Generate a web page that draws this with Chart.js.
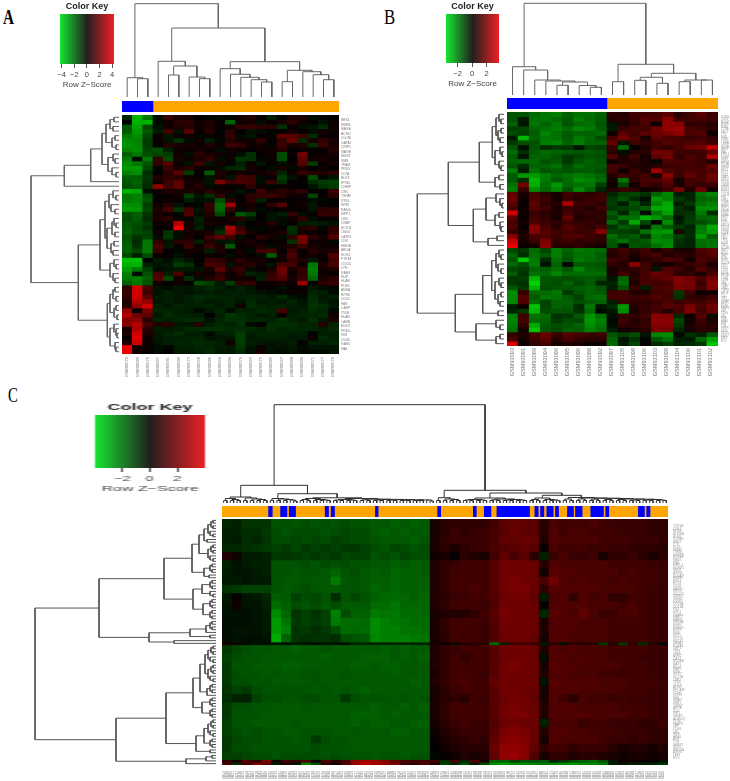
<!DOCTYPE html>
<html>
<head>
<meta charset="utf-8">
<title>Heatmaps A B C</title>
<script src="https://cdn.jsdelivr.net/npm/chart.js@4/dist/chart.umd.min.js"></script>
<style>
  body { margin: 0; background: #fff; }
  #fig { position: relative; width: 730px; height: 781px; overflow: hidden; }
  canvas { position: absolute; }
  .tag { position: absolute; font-family: "Liberation Serif", serif; font-size: 21px; line-height: 21px; color: #000; transform: scaleX(0.8); transform-origin: left top; }
</style>
</head>
<body>
<div id="fig">
  <div class="tag" style="left:3px;top:7px;font-weight:bold;transform:scaleX(.72)">A</div>
  <div class="tag" style="left:384px;top:7px">B</div>
  <div class="tag" style="left:8px;top:385px;transform:scaleX(.7)">C</div>
</div>
<script>
// Sample labels
const samplesA = ['GSM82574','GSM82580','GSM82576','GSM82587','GSM82581','GSM82584','GSM82573','GSM82568','GSM82586','GSM82566','GSM82589','GSM82579','GSM82583','GSM82575','GSM82585','GSM82567','GSM82588','GSM82582','GSM82571','GSM82577','GSM82572'];
const samplesB = ['GSM93093','GSM93091','GSM93089','GSM93094','GSM93096','GSM93095','GSM93090','GSM93088','GSM93092','GSM93097','GSM93105','GSM93098','GSM93106','GSM93103','GSM93099','GSM93104','GSM93100','GSM93101','GSM93102'];
const samplesC = [412,388,405,431,397,420,376,444,391,402,418,383,437,409,395,426,379,441,400,415,386,433,393,407,422,381,439,398,411,429,374,446,390,404,417,385,435,396,408,424,377,442,389,401,419,382,436,410,394,427,380,440,399,414,387,432,392,406,421,378,443,403,416,384,438,413,375,430,425,447,448,449,450,452,455,451,458,453,460,454,462,457,465,456,468,459,470,461,472,463,474,464,476,466,478,467,480,469,482,471,484,473,486,475,488,477,490,479,492,481,494,483,496,485,498,487,500,489,502,491,504,493,506,495,508,497,510,499,512,501,514,503,516,505];
// Row labels
const genesA = ['BEX1','RBM3','MAGEA1','ACSL3','CLDN6','GATA3','CRIP1','MAGEA4','MGST1','SMS','TFAM','PRDX2','CLTA','ELK3','IFT80','CHMP2','CMC','TSPAN','STK4','NPM','RAD54','MPP1','LRG','CNBP','SOX11','LMO4','LASP1','CD9','HMGB','ABCA1','SOX4','PTP4A','CDC42','LYN','RAB4','NUP','HLAE','PLEK','ANXA','RPS6','CD52','FAS','CASP','ITGB','HLAB','LAMB','ENO2','PRKCA','VIM','CD44','GAS5','MAL'];
const genesOther = ['TOP2A','CDK1','MCM2','AURKA','BUB1','CCNB1','KIF11','TTK','PLK1','RRM2','TYMS','CENPF','NUSAP','MELK','PBK','ESPL1','FOXM1','NEK2','ASPM','DLGAP','HMMR','PRC1','ECT2','CKS2','UBE2C','KIF2C','CDC20','ZWINT','GINS2','MKI67','COL1A','COL3A','FN1','SPP1','TGFB1','MMP2','MMP9','VEGFA','EGFR','ERBB2','ESR1','PGR','KRT5','KRT14','KRT17','GATA3','FOXA1','XBP1','TFF1','TFF3','AGR2','CA12','SCUBE','NAT1','BCL2','MAPT','MYB','GSTP','SLC7A','LRP2','TP63','CD24','ALDH','EPCAM','CDH1','CDH3','VIM','SNAI2','ZEB1','TWIST','APOE','CLU','IGF1','IGFBP','ADIPOQ','PLIN1','FABP4','LEP','CD36','LPL','HBB','HBA1','ALB','TTR','SFRP1','DKK1','WNT5A','AXIN2','LEF1','MYC'];

// Group colour bars, in sample units
const blueA = [[0, 3]];
const blueB = [[0, 9]];
const blueC = [[14, 15.1], [17.6, 19.5], [20.2, 22.1], [31, 32], [32.8, 33.8], [46.1, 46.9], [64.8, 65.7], [75.5, 76.4], [78.8, 80.8], [82.6, 92.4], [94, 95], [95.7, 96.7], [97.6, 99.5], [100.2, 101.1], [103.8, 105.6], [106.2, 108.2], [110.8, 114.6], [115.3, 116.2], [125.1, 126.9], [127.6, 128.6]];
const totalA = 21, totalB = 19, totalC = 134;

// Colour key ticks and ranges
const keyTicksA = [-4, -2, 0, 2, 4], keyRangeA = [-4.25, 4.3];
const keyTicksB = [-2, 0, 2], keyRangeB = [-3.6, 3.7];
const keyTicksC = [-2, 0, 2], keyRangeC = [-4, 4.03];

// Dendrograms: [height, left, right], 0 is a leaf
const colTreeA = [93.3,
  [19.3, 0, [18.3, 0, 0]],
  [69,
    [35.7, 0, [31, [22, 0, 0], [20, 0, [18.3, 0, 0]]]],
    [35.3,
      [28.3, 0, [22.7, 0, [19.7, 0, [17.3, 0, [15, 0, 0]]]]],
      [26.7, [15.3, 0, 0], [25.3, 0, [22.3, 0, [17.3, 0, 0]]]]]]];
const rowTreeA = [88,
  [54.7,
    [28.3,
      [17,
        [13, [9, [5, 0, 0], [6, 0, 0]], [7, [4, 0, 0], [3, 0, 0]]],
        [11, [6, 0, [4, 0, 0]], [7, 0, [3, 0, 0]]]],
      0],
    0],
  [40.7,
    [19,
      [14,
        [10, [6, 0, [3, 0, 0]], [8, 0, [4, 0, 0]]],
        [12, [7, [5, 0, [3, 0, 0]], [4, 0, 0]], [8, [5, 0, 0], [6, 0, 0]]]],
      [9, [5, 0, [3, 0, 0]], [6, 0, [4, 0, 0]]]],
    [11.7,
      [9, [6, [4, 0, 0], [3, 0, 0]], [5, [3, 0, 0], [2, 0, 0]]],
      [9, [5, 0, [3, 0, [2, 0, 0]]], [4, 0, [3, 0, 0]]]]]];
const colTreeB = [91.7,
  [28.3, 0, [25, 0, [15, 0, [14, 0, [13, [9.7, 0, 0], [9.5, 0, [7.7, 0, 0]]]]]]],
  [30.7,
    [13.3, 0, 0],
    [21.7,
      [17.7, [14.7, 0, 0], [11.7, 0, 0]],
      [15, [13.3, 0, 0], [15, 0, 0]]]]];
const rowTreeB = [86.7,
  [55.7,
    [24.7,
      [11.7, [8, [5, 0, [3, 0, 0]], [6, [3, 0, 0], [4, 0, 0]]], [9, [4, 0, [2, 0, 0]], [5, 0, [3, 0, 0]]]],
      [9, [5, 0, 0], [4, 0, 0]]],
    [30.7,
      [18, [8, 0, [4, 0, [2, 0, 0]]], [9, [5, 0, 0], [4, 0, [3, 0, 0]]]],
      [16, [7, 0, 0], 0]]],
  [48.7,
    [21.3,
      [12.3, [8, [5, 0, [3, 0, 0]], [6, 0, [3, 0, 0]]], [9, [5, 0, [3, 0, 0]], [6, [3, 0, 0], [4, 0, 0]]]],
      [6, 0, 0]],
    [28, [8, 0, [4, 0, 0]], [8, [4, 0, 0], 0]]]];

// Small repeating clusters for panel C
const p = [2.5, 0, 0], t = [3, 0, [2, 0, 0]];
const q = [6, [4, 0, 0], [4, 0, 0]], s = [8, [5, [3, 0, 0], [3, 0, 0]], [6, 0, [3, 0, 0]]];
const colTailL = [3.8, [3.2, p, p], [3.6, [3, p, p], [3.4, [3, p, p], [3.2, [2.8, p, p], [3, [2.6, p, p], t]]]]];
const colTailR = [5, [4, p, p], [4.8, [3.8, p, p], [4.5, [3.5, p, p], [4, [3.5, p, p], [3.8, [3, p, p], [3.5, [3, p, p], [3, p, p]]]]]]];
const colTreeC = [98.3,
  [17.7,
    [6, [4.5, p, [3.5, p, p]], [5, p, [4, p, [3.5, p, p]]]],
    [9.3,
      [4.5, p, [4, p, [3.5, p, t]]],
      [5.2,
        [4.5, [3.5, p, p], [3.5, p, [3, p, p]]],
        [4.5, [3.5, [3, p, p], [3, p, p]], colTailL]]]],
  [12.7,
    [5.3, p, [4, p, [3.5, p, p]]],
    [10,
      [5, [3.5, [3, p, p], [3, p, p]], [4, [3.2, p, p], [3.5, [3, p, p], [3, p, p]]]],
      [7.7,
        [5, [3.5, p, p], [3.5, p, [3, p, p]]],
        [5.5, [4, p, p], colTailR]]]]];
const rowTreeC = [181,
  [117,
    [52,
      [24, [17, [12, s, [9, 0, 0]], s], [12, q, [7, 0, 0]]],
      [23, [14, q, [6, 0, [3, 0, 0]]], [13, q, q]]],
    [67, [26, [10, q, 0], [6, 0, 0]], [42, 0, 0]]],
  [100,
    [50,
      [23, [16, [11, s, s], [9, q, 0]], [14, q, q]],
      [20, [12, s, q], [6, 0, 0]]],
    [30, [10, [4, 0, 0], 0], 0]]];

// Heat values (row z-scores), rows top to bottom
const heatA = [
[-.6,-3,-2,-.2,1,.5,.4,0,-.1,-.2,-.1,.3,.5,.1,-.5,0,.5,.5,-.2,-.1,0],
[0,-3,-3,-.1,.3,.7,.7,.2,.5,.1,-1.6,.2,.4,-.2,.1,.4,.8,.3,.1,-.3,.2],
[-1.5,-2.8,-1.2,-.3,.3,.5,.7,.3,.5,.1,.2,.9,.9,.7,.7,-.8,.1,-.2,-.3,-.7,.2],
[-1.5,-2.6,-1.5,-.4,1.2,-.3,1.5,.1,.6,-.1,.7,.1,-.3,-.2,0,.1,.3,.1,-.2,.3,.2],
[-2,-2.4,-1.2,.2,-.4,.2,.3,-.1,.2,.1,.9,-.2,-.3,.1,-.1,1.6,1.5,1,-.7,.2,.1],
[-2.4,-2.2,-1,.2,-.3,-.8,-.2,.2,-.5,-.1,.6,.3,.3,.8,.1,.9,1.8,-.7,.4,.9,.4],
[-2.5,-2.3,-1,.1,.6,.4,.4,.2,.5,.2,1,.9,.2,.3,-.1,1,.4,.5,-.8,1,.4],
[-2.2,-2.4,-1.2,-1.3,-.5,.2,.1,.4,.1,-.2,.3,.1,.1,.2,.3,.6,0,.2,.1,.1,.6],
[-1.6,-2,-1.3,-1.2,-1,.3,-.2,.7,.4,.3,.2,-.2,-.8,.1,.3,-1.3,.2,1.9,.1,.2,.4],
[-2,-.2,-2,.9,-1.2,.4,.2,.4,.9,-.2,.2,-.9,-.8,-.1,.2,-1.3,0,1.5,.3,.4,.2],
[-2.4,-2,-1.4,.9,1.4,.2,-.3,1,-.3,.4,-.1,-.5,.2,-.3,.1,-.2,.2,1.4,-1,.1,.3],
[-2.6,-2.6,-1.2,-.1,1,.4,.7,.2,.2,-.2,-.6,-.7,.4,.1,-.2,.4,-.1,.4,.1,.2,0],
[-2.2,-2.4,-.8,0,.7,1.5,-1,.1,-1.5,.5,.2,.4,.2,.3,.5,-.6,.2,.9,.6,.5,.8],
[-1.6,-1.5,-.9,.6,.8,.6,.2,.1,-.3,.4,-.3,1.1,1,-.2,.2,-1,-.3,.1,-1.3,-.1,-.4],
[-1.4,-1.7,-.8,.3,1,1.5,.4,.4,-.3,2,1,1.2,1.1,-.2,1,-.7,.1,.1,-.7,-1,-1.1],
[-1.3,-1.5,-.7,2.5,1,1.6,.3,.6,-.2,.2,-.1,.2,.8,.2,-.1,.2,.1,0,-.3,-.8,-1],
[-3,-2.8,-.2,.2,.5,.4,.5,.3,.7,.3,.3,-.3,-.1,1,.4,.7,.5,.8,.1,0,1],
[-2,-2.2,-1.2,.1,.1,.3,-1,-.3,-.8,.8,-.2,.1,.7,.9,1,.6,.3,.2,-1.1,.1,.7],
[-2,-2.2,-1.4,.1,.2,.1,-.5,-.2,-.3,-1.3,.6,.1,.7,-.5,.1,.2,.1,.2,-.2,-.1,0],
[-2.4,-2.3,-1,.3,.6,-.3,.1,-.1,.9,-1.8,2.6,.2,.3,.1,.7,1.4,.1,.3,-.4,.1,.1],
[-2.6,-2.5,-1.2,.5,1.2,-.9,1.2,-.3,.8,-1.7,.9,-.1,.4,-.2,.1,.2,.1,.1,-.3,.8,.7],
[-1.3,-1.6,-.9,.4,.3,-.1,1.4,-.2,.5,-1.2,.2,-1.4,-1,.1,-.3,-.5,.9,-.2,.1,.9,.8],
[-1.2,-1.5,-.7,.5,.7,.2,.1,-.5,.3,.2,.5,.6,-.3,.1,-.3,-.2,.2,.9,-.2,.1,.2],
[-1.4,-1.3,-1,.2,.3,3,.4,-.4,.4,.3,.2,-.3,.1,.2,.6,-.2,.1,-.4,-.5,-.4,-.3],
[-1.5,-1.2,-.8,.1,.1,4,.4,-.5,-.1,-.3,2.8,.9,-.1,-.1,.2,.1,-.8,.5,.8,-.1,.7],
[-1.6,-1.3,-1.1,.2,-.9,-.2,.3,.3,.4,-.7,2.4,1.3,.4,.1,.2,.4,-.7,.3,.2,.1,.8],
[-1.3,-.9,-1.1,-.2,-.9,-.2,.4,.1,1,1.6,1.1,-.2,.1,.7,.4,-.2,.8,2,.7,.4,1.4],
[-1.5,-.7,-2,.8,-.3,.7,.8,-.5,.6,-.3,-.4,.3,.4,.2,.1,.1,-.8,1.9,.2,.2,-.1],
[-1.6,-.9,-2,1.3,-.4,.2,1,.2,1,.4,-1.5,.1,.2,.5,-.2,.3,.5,1,.4,.2,.3],
[-1.6,-1.2,-2,.9,.1,-.1,.3,.3,-.5,.5,.1,.3,-.2,1,1.2,.1,1,.1,.7,.4,.5],
[-1.2,-.5,-1.3,.3,.1,-.3,.2,.1,.2,.1,-.2,.3,.1,-.2,-1.5,.4,1.3,.2,.3,.2,1.3],
[-3.2,-3.2,0,-.4,-.2,-.6,-.3,.1,.9,.8,.3,.7,.3,.4,.1,.3,.9,.5,-.4,.2,1.1],
[-3,-3,-.5,-.3,-.4,-1,-.8,-.1,1.2,1,-.3,.5,.6,.2,-.3,1.3,1.1,.2,-2,.5,1.2],
[-2.6,-2,-1,-.2,-.3,-.4,-.4,-.3,.4,1.6,.6,.9,-.2,.1,.4,1.8,.4,.8,-2.2,.3,.5],
[-2.2,-.2,-1.4,1.2,-.5,1.3,-.2,.4,.2,.7,.2,.6,-.6,-.4,.8,1.7,.2,.8,-2,.2,.1],
[-2,-2.2,-1.6,1.4,-1.2,.3,-.8,-.2,.6,1,.2,.3,.2,-.5,1,1.3,.5,.9,-1.7,.4,.7],
[-1.6,-2,-1.4,.3,.1,.2,.1,-1.3,-1,-.4,-1,.8,.9,.2,.2,.4,.2,2.6,-.1,.8,.9],
[.8,3.5,1.2,-.3,-.2,-.4,-.3,-.5,-.7,-.5,-.3,-.5,-.3,.1,.1,-.2,.1,.1,-.4,-.2,-.1],
[.9,3.5,1,-.3,-.5,-.4,-.3,-.4,-.5,-.4,-.5,-.5,-.4,-.3,-.2,-.1,.2,.2,-.6,-.5,-.2],
[.8,3.5,1.5,-.4,-.5,-.4,-.5,-.7,-.6,-.6,-.5,-.5,-.6,-.5,-.4,-.7,-.3,-.1,-.7,-.4,-.5],
[.5,3,2.5,-.4,-.5,-.4,-.5,-.6,-.4,-.5,-.6,-.3,-.7,-.4,-.5,-.4,-.6,-.3,-.8,-.5,-.3],
[.6,2.5,3.5,-.5,-.4,-.6,-.5,-.5,-.6,-.4,-.5,.3,-.7,-.6,-.5,-.6,-.5,-.4,-.9,-.7,-.4],
[2.5,.1,2,-.6,-.6,-.5,-.4,-.1,-.4,-.6,-.2,-.6,-.5,-.7,-.6,1.2,-.4,-.5,-.7,-.6,-.1],
[3,1.8,1.5,-.4,-.7,-.6,-.5,-.5,0,-.5,-.9,-.7,-.6,-.4,-.5,.2,-.5,-.6,-.6,-.7,.3],
[2.2,2.4,.7,-.6,-.5,-.6,-.7,-.7,-.3,-.6,-.8,-.8,-.6,-.6,-.5,-.8,-.6,-.4,-.8,-.4,.5],
[2.3,3,1.2,.5,.7,-.4,-.4,.6,-.5,-.7,-.5,-.8,-.2,.1,-.7,-.8,-.7,-.6,-.6,.6,-.6],
[.3,3,.7,-.5,-.4,-.5,-.7,-.7,-.8,-.8,-.7,-.7,-.7,-.5,-.8,-.6,-.7,-.6,-.6,-.5,-.7],
[.5,3.5,.5,-.4,-.6,-.7,-.5,-.5,-.2,-.5,-.6,-1,-.5,-.6,-.6,-.6,-.5,-.5,.1,-.5,-.5],
[.1,3.8,.3,-.4,-.5,-.5,-.6,-.6,-.3,-.4,-.4,-1,-.4,-.5,-.5,-.5,-.4,-.4,.2,-.7,-.5],
[.5,3.5,.2,-.3,-.5,-.6,-.6,-.7,-.6,-.5,.3,-1,-.5,-.4,-.3,-.4,-.5,.1,-.5,-.5,-.6],
[4,.2,.2,-.2,-.1,-.5,-.5,-.6,-.6,-.5,-.4,-.9,-.3,.2,-.3,-.3,-.4,-.2,-.3,-.3,-.3],
[4,.3,.1,-.2,0,-.4,-.4,-.5,-.7,-.4,-.4,-.7,-.3,.4,-.3,-.2,-.3,-.1,-.2,-.2,-.4]
];

const heatB = [
[-1.2,-1.2,-1.5,-1.7,-1.8,-1.4,-1.6,-1.6,-1.4,.6,.5,.9,.9,1,1.3,.6,.9,1.2,.8],
[-1.2,-.4,-1.6,-1.7,-1.5,-1.3,-1.8,-1.5,-1.3,.5,.6,.8,1.2,1.1,2,.9,.9,1,.9],
[-1.4,-.3,-1.7,-1.4,-1.7,-1.2,-1.5,-1.6,-1.2,-.3,.4,.7,1,.2,2,1.9,.6,.7,.5],
[-.9,-1,-1.4,-1.6,-1.8,-1.5,-1.9,-1.7,-1.3,-.4,.8,1,.9,1.6,2.1,2.2,1,.9,.6],
[-1.1,-.9,-1.3,-1.9,-1.6,-1.3,-1.4,-1.4,-1.5,.2,1.3,.9,1.3,1.5,1.7,2.1,1.1,1.2,.2],
[-.4,-2.6,-1.4,-1.7,-1.6,-1.3,-1.7,-1.5,-1.1,1,1.6,1.1,.4,1.3,1.1,1,.8,.9,.7],
[-.8,-1.1,-1.2,-1.8,-1.9,-1.4,-1.8,-1.4,-1.4,1.4,-.3,.9,.7,.9,1.2,1,1.1,1.2,.9],
[-1.2,-.2,-1.2,-.6,-.8,-.8,-.3,-1,-.9,.8,-1.5,.1,.5,.9,.7,1,1.5,1.6,2.7],
[-1.5,-.6,-1.3,-1.5,-1.4,-1.3,-1.2,-1.3,-1.2,.6,-.2,.5,.6,1.6,1.5,.9,.8,.9,1.4],
[-1.3,-.3,-1.4,-1.4,-1.2,-.8,-1,-1.2,-1.1,1.2,.4,.9,.3,1.3,1.6,.7,1.1,.8,2.4],
[-1.4,-1.5,-1.5,-1.2,-1.3,-.8,-1.2,-1.4,-1.2,.2,.5,.6,.4,-.1,1.1,1,1,.9,.5],
[-1.2,-.6,-1.4,-1.4,-1.6,-1.1,-1.5,-1.3,-1.3,1,.8,.5,.4,.6,.8,.9,1,.9,1.5],
[-1.8,-.4,-1.6,-1.2,-1.3,-1.2,-1.3,-1.3,-1.1,.9,.2,.8,.5,2.3,1.1,.9,1.1,1,1.2],
[-1.3,-2.2,-2.2,-1.8,-1.4,-1.6,-1.8,-1.6,-1.4,.5,.9,.7,.9,.3,2,.8,1.4,1,1.6],
[-1.3,-.6,-2.6,-1.7,-1.3,-1.5,-2,-1.8,-1.5,.3,-1.6,.6,1,1,1.4,.3,1,1,1.4],
[-1.6,1.6,-2.5,-1.6,-2.2,-1.5,-1.6,-1.7,-.9,.2,-1,.3,.9,.7,1.1,.4,.9,.7,.8],
[-1.8,.8,-2,-1.5,-1.9,-1.2,-2,-1.4,-.5,.5,.8,.6,.2,.4,.8,1.7,.4,1.6,.3],
[1.4,.4,1,.6,.3,.9,.7,.6,.8,-.5,-.9,-1,-.7,-1.4,-1.9,-.4,-.5,-1.6,-1.9],
[1.6,.2,1.1,.8,.3,.8,.6,.8,.9,-.8,-1.2,-.6,-.2,-2.2,-1.8,-.8,-.5,-1.4,-1.5],
[1.3,.1,1.3,.7,.5,2.4,.9,.8,.7,-.9,-.4,-1.2,-.5,-1.8,-2.4,-.4,-.8,-1.6,-1.8],
[1,.2,1.2,.9,.4,.8,.7,.5,.9,-.7,-.9,-1,-1.3,-2.4,-2.5,-.7,-.4,-2,-2],
[3,.2,.8,.6,.4,.9,.6,.7,.6,-1.3,-.5,-1.4,-.2,-1.6,-2.3,-.6,-.7,-1.7,-.6],
[1.3,.1,1,.7,.3,1.4,.5,.6,.7,-1,-1.6,-1.6,-2.5,-2.1,-1.5,-.3,-.8,-1.4,-1.5],
[1,.3,1.1,.8,.6,.9,.7,.8,.6,-1.5,-.8,-2.4,-1,0,-2,-.4,-.9,-1.1,-1.4],
[1.1,.1,2,1,.6,1.2,.9,.7,1,-.7,-1.3,-1.1,-.3,-1.7,-1.3,-.8,-.5,-1.7,-2.4],
[.7,.3,1.8,1.2,.9,1,.8,.9,1.9,-1,-.9,-.8,-1.6,-2.1,-2.2,.4,-.6,-1.8,-2.2],
[1.9,.5,1,1.1,.8,1.1,1.1,.9,.7,-1.5,-1.1,-1.3,-.7,-1.9,-1.6,-.9,-.6,-2.2,-1.3],
[2.8,.3,.9,1.7,.7,.9,.7,.8,.6,-1.3,-1.6,-1.1,-1.3,-2,-1.9,-.7,-.5,-1.6,-1.6],
[3.4,.2,.3,1.9,.5,.5,.7,.4,.3,-1.2,-.2,-1.2,-1.1,-1.6,-2,-.6,-.5,-1.5,-1.7],
[-1,-.8,-1.5,-1,-1.8,-1.4,-1.7,-1.6,-1.5,.6,.9,.6,.9,.4,.7,.4,.4,1.1,1.3],
[-1.4,-.6,-1.6,-1.3,-1.8,-1.3,-1.6,-1.6,-1.3,.5,.8,.4,.8,1,.5,.7,.6,.9,1.2],
[-1.2,-2.8,-1.7,-.6,-1.6,-1.2,-1.7,-1.5,-1.4,.9,.7,.3,.6,.7,1.1,.9,.3,1.1,.8],
[-1.5,-1.1,-1.8,-.3,-1.4,-.1,-1.3,-1.3,-1.2,.7,.5,2,.9,.4,.3,.6,.8,.9,.4],
[-1,-.9,-1.4,-1.3,-1.6,-1.2,-1.9,-1.4,-1.3,.3,.6,.7,.9,-.3,1.1,.9,.5,1.2,.7],
[-1.3,-.7,-1.6,-1.5,-1.9,-1.5,-1.5,-1.5,-1.5,.4,.9,.5,1,1.5,1.3,.6,.7,.4,1],
[-.8,-.9,-2.6,-1.2,-1.2,-1.1,-1.2,-1.3,-1.1,-.3,-1.4,.6,1,1.2,1.4,1.9,1.6,1.1,1.6],
[-.8,-.7,-3,-1.2,-1.1,-1.4,-1,-1.3,-.5,-.5,-1.6,.5,1,.9,1,1.8,1.7,.8,1.9],
[-1.2,-.8,-2.5,-1.1,-1.2,-1.2,-1.3,-1.4,-1.2,-.4,-1.2,.8,-.4,1,1.1,1.7,1.6,1,1.8],
[-2,.8,-1.5,-1.5,-1.7,-.8,-1.2,-1.4,-1.3,.9,.9,.5,.5,.9,1,-.8,.9,.2,.3],
[-2,1.2,-1.3,-1.7,-1.6,-1.3,-.9,-1.5,-1.6,1,1,.8,.9,1.2,.9,-.7,.7,.6,.8],
[-1.9,1.1,-1.5,-1,-1.4,-1.4,-1.1,-1.3,-1.4,-.4,.8,.7,.7,.8,1.1,.8,1,.9,1.2],
[-.4,.2,-2.8,-1,-1.4,-1.3,-.6,-1.7,-.3,-.6,-2.2,.5,.8,1,1.2,1.1,1.7,1.1,1.6],
[-.5,-.8,-2.6,-1.1,-1.2,-1.2,-.7,-1.5,-.1,-.3,-2,.4,.7,1,.5,1,1.8,.9,1.5],
[-1.8,.9,-1.6,-1.5,-.7,-.8,-1.3,-2,-1.6,-.2,.7,.7,.9,1.9,1.9,-.6,.2,1.2,-.2],
[-1.9,1,-1.5,-1.4,-.8,-1.1,-1,-2.2,-1.8,-.1,.9,.5,.7,2,2,-1,.2,.9,.4],
[-1.8,.7,-2.4,-1.3,-1.1,-1.2,-1.4,-2,-1.7,-.2,.7,.6,.8,1.8,1.9,-.8,.4,.7,.6],
[-1.6,.3,-2.8,-1.2,-1,-1.3,-1.3,-1.8,-1.5,-.4,.3,.4,.6,1.7,1.6,-.5,.3,.6,.5],
[.7,.5,1,1.5,.8,1.2,1,.8,.9,-1.2,-.9,-1.1,-.3,-1.9,-2,-.1,-.7,-.5,-1.3],
[1.1,.3,.9,1.3,.5,1,.7,.6,.6,-1.4,-.3,-.7,-.1,-1.2,-1.6,-.4,-.4,-1.4,-2.2],
[3.2,.2,.7,.9,.3,.5,.4,.1,.2,-1.5,-.4,-1,.1,-.6,-.9,-.5,-.6,-.8,-2.8]
];

// Panel C is read on a coarser grid: 45 columns, and row spans out of 90 rows
const spansC = [3,3,3,3,3,3,3,3,3,3,3,3,3,3,3,1,3,3,3,3,3,3,3,3,3,3,3,3,3,3,1,1];
const heatC = [
[-.6,-.5,-.8,-.8,-.8,-1.3,-1.2,-1.3,-1.2,-1.3,-1.2,-1.3,-1.2,-1.3,-1.3,-1.4,-1.4,-1.5,-1.4,-1.5,-1.4,.3,.5,.6,.6,.6,.6,.8,1.1,1.2,1.2,1.1,.5,.9,.8,.8,.8,.9,.8,.7,.7,.7,.7,.6,.6],
[-.5,-.5,-.7,-.7,-.9,-1.2,-1.3,-1.2,-1.2,-1.2,-1.3,-1.2,-1.1,-1.2,-1.2,-1.4,-1.5,-1.4,-1.5,-1.4,-1.4,.3,.5,.7,.6,.7,.7,.9,1.1,1.3,1.2,1.1,.5,1,.8,.9,.9,.8,.8,.8,.7,.7,.7,.6,.6],
[-.5,-.4,-.7,-.6,-.8,-1.2,-1.2,-1.1,-1.2,-1.1,-1.2,-1,-1.1,-1.2,-1.2,-1.3,-1.4,-1.4,-1.4,-1.5,-1.3,.3,.6,.7,.7,.7,.7,.9,1.2,1.2,1.3,1.2,.4,1,.9,.9,.9,.9,.8,.8,.8,.7,.7,.7,.6],
[-.6,-.6,-.7,-.8,-.9,-1,-.9,-1.1,-.9,-1,-.9,-1,-.9,-.9,-1,-1.2,-1.3,-1.1,-1.2,-1.3,-1.2,.3,.5,.3,.6,.7,.7,.9,1,1.1,1.2,1.1,.1,.9,.8,.8,.8,.7,.8,.7,.7,.6,.6,.6,.5],
[.4,.2,-.4,-.4,-.5,-.9,-.8,-.9,-1,-.9,-1,-.9,-1.1,-1,-1,-1.3,-1.2,-1.3,-1.1,-1.2,-1.2,.2,.3,.1,.5,.4,.3,.8,1.2,.9,1.1,.5,-.5,.7,.9,.7,.7,.8,.3,.6,.6,.7,.5,.3,.5],
[-.5,-.3,-.4,-.5,-.5,-1.3,-1.3,-1.3,-1.2,-1.3,-1.2,-1.3,-1.2,-1.3,-1.3,-1.4,-1.4,-1.5,-1.4,-1.5,-1.4,.4,.6,.7,.8,.8,.8,1.1,1.4,1.4,1.4,1.3,.5,1,.9,.9,.9,.9,.9,.8,.8,.8,.8,.7,.7],
[-.4,-.3,-.3,-.4,-.5,-1.3,-1.3,-1.4,-1.3,-1.3,-1.4,-1.6,-1.3,-1.2,-1.4,-1.5,-1.4,-1.6,-1.5,-1.5,-1.4,.4,.6,.8,.8,.8,.8,1.1,1.4,1.4,1.4,1.3,.2,1.1,1,1,.9,.9,.9,.9,.8,.9,.8,.8,.7],
[-.4,-.4,-.3,-.4,-.4,-1.3,-1.4,-1.4,-1.3,-1.4,-1.4,-1.9,-1.4,-1.3,-1.4,-1.5,-1.5,-1.6,-1.5,-1.5,-1.5,.4,.6,.8,.8,.8,.8,1.1,1.4,1.5,1.4,1.3,.9,1.4,1,.9,1,.9,.9,.8,.9,.8,.8,.8,.7],
[-.8,-.9,-1,-1,-1,-1.3,-1.4,-1.3,-1.2,-1.3,-1.4,-1.4,-1.3,-1.3,-1.4,-1.6,-1.5,-1.6,-1.5,-1.5,-1.5,.4,.6,.8,.8,.9,.8,1.1,1.4,1.5,1.5,1.3,.6,1.1,1,1,1,1,.9,.9,.9,.9,.8,.7,.7],
[-.4,.1,-.3,-.4,-.6,-1.5,-1.4,-1,-1.2,-1.1,-1.3,-.7,-1.3,-1.1,-1.3,-1.5,-1.6,-1.7,-1.6,-1.5,-1.6,.4,.5,.7,.7,.8,.8,1,1.3,1.4,1.4,1.2,-.4,.9,1,.6,1,.8,.9,.6,.6,.8,.8,.7,.7],
[-.3,.2,-.3,-.3,-.5,-1.7,-1.5,-1.2,-1.3,-1.2,-1.4,-1.2,-1.4,-1.4,-1.4,-1.7,-1.7,-1.8,-1.6,-1.6,-1.6,.4,.6,.8,.8,.8,.7,1,1.4,1.4,1.4,1.3,.1,1,1,1,1,.9,.9,.9,.8,.9,.8,.7,.7],
[-.3,-.2,-.2,-.3,-.4,-2.2,-1.6,-.8,-1,-.8,-1,-2,-1.2,-1.5,-1.5,-1.9,-1.8,-1.9,-1.7,-1.7,-1.6,.3,.4,.4,.4,.6,.8,1.1,1.5,1.4,1.4,1.3,-.6,1.1,1,.9,1.2,.9,.7,.7,.9,.9,.8,.7,.7],
[-.2,-.2,-.2,-.3,-.4,-2.4,-1.8,-.9,-1,-.9,-1,-1.9,-1.7,-1.7,-1.6,-2.2,-2,-1.9,-1.8,-1.7,-1.7,.3,.6,.8,.8,.8,.7,1,1.4,1.4,1.4,1.3,.3,1,1,1,.9,.9,.9,.8,.8,.8,.8,.7,.7],
[-.2,-.3,-.3,-.3,-.4,-2.4,-2,-.8,-.9,-.7,-.9,-1.2,-1.7,-1.6,-1.7,-2.2,-2,-2,-1.8,-1.8,-1.7,.3,.6,.8,.8,.8,.7,1,1.4,1.4,1.4,1.3,.4,1,1,1,.9,.9,.9,.8,.8,.8,.8,.7,.7],
[-.2,-.3,-.2,-.2,-.3,-2.7,-1.5,-.8,-.7,-.8,-.8,-.7,-1.2,-1.3,-1.4,-2.1,-2,-2,-2,-1.9,-1.8,.3,.5,.8,.8,.8,.7,1,1.3,1.4,1.4,1.2,.3,1,1,.9,.9,.9,.9,.8,.8,.8,.8,.7,.7],
[.3,.2,-.2,-.3,-.2,-.3,-.2,-.4,-.3,-.2,-.3,-.3,-.2,-.6,-.6,-.5,-.5,-.6,-.6,-.5,-.5,.3,.2,-.2,.5,.5,.5,-1.6,-.5,.8,.8,.7,-.4,.6,-.3,.6,.5,.5,-.8,.5,-.9,.6,-.7,.5,-.1],
[-.9,-1.1,-1.2,-1.3,-1.3,-1.4,-1.4,-1.5,-1.4,-1.4,-1.3,-1.4,-1.4,-1.4,-1.4,-1.4,-1.5,-1.4,-1.5,-1.4,-1.4,.4,.6,.7,.8,.8,.8,1.1,1.4,1.4,1.4,1.3,.4,1,.9,1,.9,.9,.9,.8,.8,.8,.8,.7,.7],
[-1,-1.2,-1.3,-1.3,-1.4,-1.4,-1.4,-1.4,-1.4,-1.4,-1.5,-1.4,-1.4,-1.4,-1.5,-1.5,-1.5,-1.4,-1.5,-1.4,-1.5,.4,.6,.8,.6,.8,.8,1.1,1.3,1.4,1.4,1.3,-.2,1,1,.9,1,.9,.9,.8,.8,.8,.7,.7,.7],
[-.9,-1.3,-1.3,-1.4,-1.4,-1.4,-1.5,-1.5,-1.4,-1.4,-1.4,-1.4,-1.4,-1.5,-1.5,-1.4,-1.5,-1.5,-1.4,-1.4,-1.4,.4,.6,.8,.8,.8,.8,1.1,1.4,1.5,1.4,1.3,.3,1.1,1,1,.9,.9,.9,.9,.8,.8,.8,.7,.7],
[-.9,-1.2,-1.3,-1.3,-1.4,-1.3,-1.4,-1.4,-1.3,-1.3,-1.4,-1.4,-1.3,-1.4,-1.4,-1.4,-1.4,-1.5,-1.4,-1.4,-1.4,.3,.6,.8,.8,.8,.7,1.1,1.4,1.4,1.4,1.3,.4,1,1,.9,.9,.9,.8,.8,.7,.8,.8,.7,.7],
[-.9,-1.2,-1.2,-1.3,-1.3,-1.4,-1.4,-1.4,-1.4,-1.3,-1.4,-1.4,-1.4,-1.4,-1.4,-1.4,-1.4,-1.4,-1.4,-1.5,-1.4,.4,.6,.8,.9,.8,.8,1.2,1.4,1.4,1.4,1.3,-.3,1.1,1,1,1,1,.9,.9,.9,.8,.8,.8,.7],
[-.8,-1,-.9,-1.2,-1.3,-1.3,-1.3,-1.3,-1.3,-1.4,-1.3,-1.4,-1.3,-1.4,-1.5,-1.4,-1.4,-1.4,-1.4,-1.4,-1.4,.3,.5,.7,.8,.8,.8,1.1,1.4,1.4,1.3,1.3,.3,1,1,1,.9,.9,.9,.9,.8,.8,.8,.7,.7],
[-.7,-.5,-.5,-1,-1.2,-1.2,-1.3,-1.3,-1.2,-1.2,-1.3,-1.3,-.9,-1.2,-1.3,-1.3,-1.3,-1.4,-1.3,-1.4,-1.3,.3,.5,.6,.5,.8,.7,1.1,1.3,1.4,1.4,1.2,.3,1,.8,.5,.9,.8,.8,.7,.8,.7,.7,.7,.7],
[-.9,-1.2,-1.2,-1.3,-1.3,-1.4,-1.4,-1.4,-1.3,-1.4,-1.4,-1.4,-1.4,-1.4,-1.4,-1.5,-1.4,-1.4,-1.5,-1.4,-1.5,.3,.6,.8,.8,.8,.8,1.1,1.4,1.5,1.4,1.3,.5,1,1,1,.9,.9,.9,.9,.8,.8,.8,.7,.7],
[-.9,-1.3,-1.3,-1.3,-1.4,-1.4,-1.4,-1.4,-1.4,-1.4,-1.4,-1.4,-1.4,-1.5,-1.5,-1.5,-1.4,-1.5,-1.4,-1.4,-1.4,.3,.6,.8,.8,.8,.8,1.1,1.4,1.5,1.5,1.3,.4,1,1,1,1,.9,.9,.9,.9,.8,.8,.7,.7],
[-1,-1.3,-1.3,-1.4,-1.4,-1.4,-1.4,-1.3,-1.4,-1.4,-1.4,-1.4,-1.4,-1.5,-1.4,-1.5,-1.5,-1.4,-1.4,-1.5,-1.5,.3,.5,.7,.8,.7,.7,1,1.3,1.4,1.3,1.3,-.5,.9,.9,.9,.7,.8,.8,.7,.7,.7,.6,.6,.7],
[-1,-1.2,-1.3,-1.2,-1.3,-1.3,-1.4,-1.4,-1.3,-1.3,-1.3,-1.4,-1.4,-1.3,-1.4,-1.4,-1.4,-1.5,-1.5,-1.4,-1.4,.2,.4,.6,.7,.7,.7,1.1,1.5,1.6,1.5,1.3,.4,1,1,.9,.9,.8,.8,.8,.7,.7,.7,.6,.6],
[-.9,-1.1,-1.2,-1.2,-1.3,-1.3,-1.3,-1.4,-1.3,-.9,-1.2,-1.3,-1.3,-1.4,-1.4,-1.4,-1.4,-1.4,-1.4,-1.4,-1.4,.1,.3,.5,.6,.7,.6,1.2,1.6,1.7,1.6,1.3,.3,1,.9,.9,.9,.9,.8,.7,.7,.6,.7,.6,.6],
[-.9,-1.2,-1.2,-1.3,-1.3,-1.3,-1.3,-1.3,-1.3,-1.2,-1.3,-1.3,-1.3,-1.4,-1.4,-1.4,-1.4,-1.4,-1.4,-1.4,-1.4,0,.2,.4,.5,.5,.5,1.3,1.8,1.8,1.7,1.2,.6,.8,.8,.6,.7,.7,.7,.5,.3,.4,.4,.3,.4],
[-1,-1,-1.1,-1.2,-1.2,-1.3,-1.2,-1.2,-1.2,-1.2,-1.3,-1.2,-1.3,-1.3,-1.3,-1.4,-1.3,-1.3,-1.4,-1.3,-1.3,-.1,.1,.2,.4,.3,.4,1.2,1.8,1.9,1.7,1,.3,.6,.6,.4,.5,.5,.4,.3,.2,.3,.3,.2,.3],
[.6,.3,1,.5,1.5,.2,.8,.6,.9,.2,.9,.5,.8,1.8,2,1.9,1.7,1.2,.9,.8,.8,.8,-.8,.9,-.6,1,.3,-1.5,-1.5,-1,-1.3,-1.2,-1.4,-.5,-.8,-1.2,-1.5,-1.7,-1.3,-.4,.2,.2,.1,.1,-.2],
[.9,-.7,.8,1.6,1,-.4,.4,-.3,-2,-1.2,.6,.2,1,1.9,2.4,2,1.8,1.5,.8,.5,1,.4,-1,-.6,-1.2,-.4,-1.1,-2.2,-2.4,-2.2,-2.2,-2,-1.8,-2,-2.2,-2.4,-2.2,-2.1,-1.8,-.5,-.3,-.5,-.5,-.6,-.8]
];

// Shared chart options
const baseOptions = () => ({
  responsive: false,
  animation: false,
  events: [],
  layout: { padding: 0 },
  plugins: { legend: { display: false }, tooltip: { enabled: false } }
});
const fig = document.getElementById('fig');

function addCanvas(x, y, w, h) {
  const c = document.createElement('canvas');
  c.width = w;
  c.height = h;
  c.style.left = x + 'px';
  c.style.top = y + 'px';
  fig.appendChild(c);
  return c;
}

// red/green scale like the colour key
function zColor(v, negMax, posMax) {
  const c = Math.round(255 * Math.min(1, Math.abs(v) / (v < 0 ? negMax : posMax)));
  return v < 0 ? `rgb(0,${c},0)` : `rgb(${c},0,0)`;
}

function heatChart(box, rows, negMax, posMax, labels, spans) {
  const c = addCanvas(...box);
  c.style.background = '#101010';
  const total = spans ? spans.reduce((a, b) => a + b, 0) : rows.length;
  new Chart(c, {
    type: 'bar',
    data: {
      labels,
      datasets: rows.map((r, i) => ({
        data: r.map(() => (spans ? spans[i] : 1)),
        backgroundColor: r.map(v => zColor(v, negMax, posMax)),
        barPercentage: 1, categoryPercentage: 1, borderWidth: 0
      }))
    },
    options: {
      ...baseOptions(),
      scales: {
        x: { stacked: true, display: false },
        y: { stacked: true, display: false, reverse: true, min: 0, max: total }
      }
    }
  });
}

function leafWalk(tree) {
  const pts = [];
  let next = 0;
  function walk(n) {
    if (n === 0) { next++; return { pos: next - 0.5, h: 0 }; }
    const a = walk(n[1]), b = walk(n[2]);
    pts.push([a.pos, a.h], [a.pos, n[0]], [b.pos, n[0]], [b.pos, b.h], [NaN, NaN]);
    return { pos: (a.pos + b.pos) / 2, h: n[0] };
  }
  walk(tree);
  return { pts, count: next };
}

function dendroChart(box, tree, vertical, color) {
  const { pts, count } = leafWalk(tree);
  const data = pts.map(d => (vertical ? { x: d[0], y: d[1] } : { x: d[1], y: d[0] }));
  const hMax = vertical ? box[3] : box[2];
  new Chart(addCanvas(...box), {
    type: 'scatter',
    data: { datasets: [{ data, showLine: true, spanGaps: false, pointRadius: 0, borderColor: color, borderWidth: 1, clip: false }] },
    options: {
      ...baseOptions(),
      scales: vertical
        ? { x: { type: 'linear', display: false, min: 0, max: count }, y: { type: 'linear', display: false, min: 0, max: hMax } }
        : { x: { type: 'linear', display: false, reverse: true, min: 0, max: hMax }, y: { type: 'linear', display: false, reverse: true, min: 0, max: count } }
    }
  });
}

function groupBar(box, blue, total) {
  const mk = (range, color) => ({ data: [range], backgroundColor: color, barPercentage: 1, categoryPercentage: 1, grouped: false });
  new Chart(addCanvas(...box), {
    type: 'bar',
    data: { labels: ['group'], datasets: [...blue.map(b => mk(b, '#0000ff')), mk([0, total], '#ffa500')] },
    options: {
      ...baseOptions(),
      indexAxis: 'y',
      scales: { x: { type: 'linear', display: false, min: 0, max: total }, y: { display: false } }
    }
  });
}

function keyChart(box, range, ticks, stretch) {
  const c = addCanvas(...box);
  if (stretch) { c.style.transform = `scaleX(${stretch})`; c.style.transformOrigin = 'left top'; }
  new Chart(c, {
    type: 'bar',
    data: {
      labels: ['key'],
      datasets: [{
        data: [range],
        barPercentage: 1, categoryPercentage: 1, borderWidth: 0,
        backgroundColor(ctx) {
          const a = ctx.chart.chartArea;
          if (!a) return '#222';
          const g = ctx.chart.ctx.createLinearGradient(a.left, 0, a.right, 0);
          g.addColorStop(0, '#16e630');
          g.addColorStop(0.5, '#221f1f');
          g.addColorStop(1, '#ec2024');
          return g;
        }
      }]
    },
    options: {
      ...baseOptions(),
      indexAxis: 'y',
      layout: { padding: { left: 8, right: 8 } },
      plugins: {
        legend: { display: false }, tooltip: { enabled: false },
        title: { display: true, text: 'Color Key', color: '#222', font: { family: 'Liberation Sans', size: 9, weight: 'bold', lineHeight: 1.2 }, padding: { top: 1, bottom: 2.2 } }
      },
      scales: {
        y: { display: false },
        x: {
          type: 'linear', min: range[0], max: range[1],
          afterBuildTicks(s) { s.ticks = ticks.map(v => ({ value: v })); },
          afterFit(s) { s.height = 26; },
          grid: { drawOnChartArea: false, tickLength: 4, color: '#555' },
          border: { display: false },
          ticks: { color: '#444', padding: 2, maxRotation: 0, font: { family: 'Liberation Sans', size: 7.5 }, callback: v => String(v).replace('-', '\u2212') },
          title: { display: true, text: 'Row Z\u2212Score', color: '#444', padding: 0, font: { family: 'Liberation Sans', size: 8 } }
        }
      }
    }
  });
}

function rowLabels(box, labels, size, color, pad) {
  new Chart(addCanvas(...box), {
    type: 'bar',
    data: { labels, datasets: [] },
    options: {
      ...baseOptions(),
      scales: {
        x: { display: false },
        y: {
          type: 'category', labels, position: 'right', offset: true,
          afterFit(s) { s.width = box[2] - 1; },
          grid: { display: false, drawTicks: false }, border: { display: false },
          ticks: { autoSkip: false, padding: pad, color, font: { family: 'Liberation Sans', size } }
        }
      }
    }
  });
}

function sampleLabels(box, labels, size, color) {
  new Chart(addCanvas(...box), {
    type: 'bar',
    data: { labels, datasets: [] },
    options: {
      ...baseOptions(),
      scales: {
        y: { display: false },
        x: {
          type: 'category', labels, position: 'bottom', offset: true,
          afterFit(s) { s.height = box[3] - 1; },
          grid: { display: false, drawTicks: false }, border: { display: false },
          ticks: { autoSkip: false, minRotation: 90, maxRotation: 90, padding: 1, color, font: { family: 'Liberation Sans', size } }
        }
      }
    }
  });
}

// Panel A
keyChart([52, 0, 70, 90], keyRangeA, keyTicksA);
dendroChart([122, 0, 217, 97], colTreeA, true, '#666');
groupBar([122, 101, 217, 11], blueA, totalA);
dendroChart([20, 115, 99, 239], rowTreeA, false, '#666');
heatChart([122, 115, 217, 239], heatA, 4.3, 4.3, samplesA);
rowLabels([339, 115, 12, 239], genesA, 3.4, '#777', 1);
sampleLabels([122, 355, 217, 24], samplesA, 4, '#777');

// Panel B
keyChart([438, 0, 69, 89], keyRangeB, keyTicksB);
dendroChart([507, 0, 211, 95], colTreeB, true, '#666');
groupBar([507, 98, 211, 11], blueB, totalB);
dendroChart([410, 112, 94, 234], rowTreeB, false, '#555');
heatChart([507, 112, 211, 234], heatB, 3.65, 3.65, samplesB);
rowLabels([718, 112, 11, 234], genesOther, 2.7, '#999', 2);
sampleLabels([507, 346, 211, 32], samplesB, 5.6, '#777');

// Panel C
keyChart([79, 401, 71, 93], keyRangeC, keyTicksC, 2);
dendroChart([222, 400, 446, 103], colTreeC, true, '#333');
groupBar([222, 506, 446, 11], blueC, totalC);
dendroChart([25, 519, 191, 246], rowTreeC, false, '#555');
heatChart([222, 519, 446, 246], heatC, 4, 3.2, heatC[0].map((v, i) => i), spansC);
rowLabels([668, 519, 19, 246], genesOther, 3.2, '#999', 4);
sampleLabels([222, 769, 446, 10], samplesC.map(n => 'GSM' + n), 3.2, '#8a8a8a');
</script>
</body>
</html>
